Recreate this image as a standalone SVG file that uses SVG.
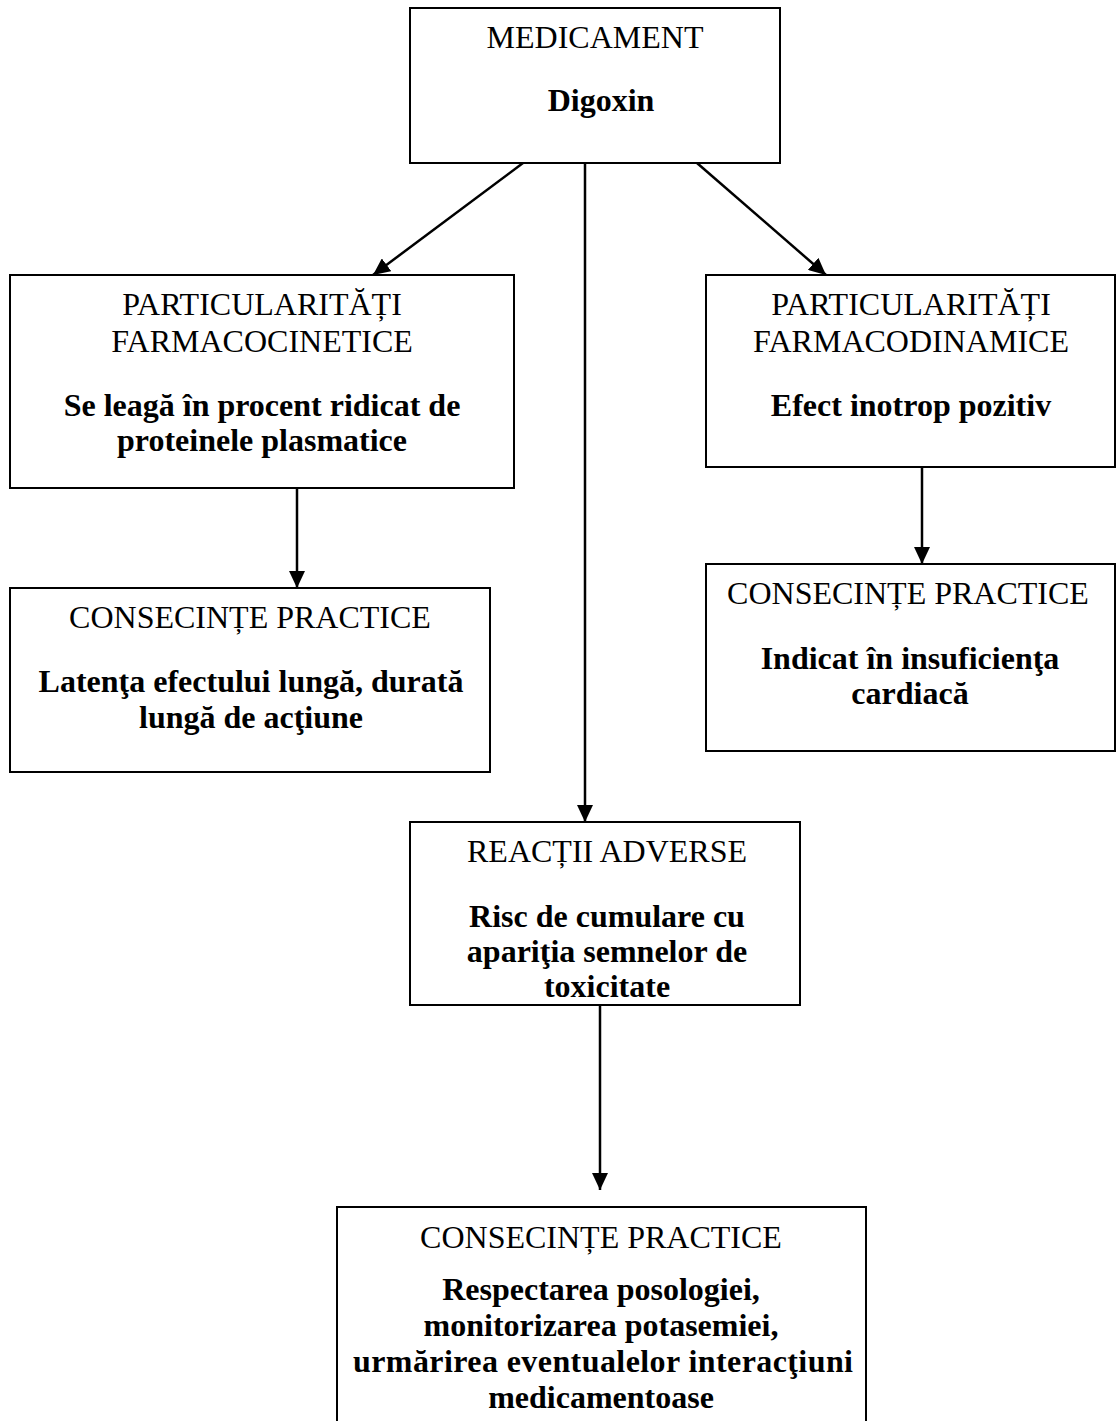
<svg xmlns="http://www.w3.org/2000/svg" width="1117" height="1421" viewBox="0 0 1117 1421">
<defs>
<style>
.box{fill:#fff;stroke:#000;stroke-width:2}
.t{font-family:"Liberation Serif","Times New Roman",serif;font-size:32px;fill:#000;text-anchor:middle}
.b{font-weight:bold}
.c{stroke:#000;stroke-width:2.5;fill:none}
</style>
<marker id="ah" markerUnits="userSpaceOnUse" markerWidth="18" markerHeight="16" refX="17" refY="8" orient="auto">
<path d="M0,0 L17,8 L0,16 Z" fill="#000"/>
</marker>
</defs>
<rect width="1117" height="1421" fill="#fff"/>
<g id="connectors">
<line class="c" x1="523" y1="163" x2="373" y2="275" marker-end="url(#ah)"/>
<line class="c" x1="697" y1="163" x2="826" y2="275" marker-end="url(#ah)"/>
<line class="c" x1="585" y1="163" x2="585" y2="822" marker-end="url(#ah)"/>
<line class="c" x1="297" y1="488" x2="297" y2="588" marker-end="url(#ah)"/>
<line class="c" x1="922" y1="467" x2="922" y2="564" marker-end="url(#ah)"/>
<line class="c" x1="600" y1="1005" x2="600" y2="1190" marker-end="url(#ah)"/>
</g>
<g id="medicament">
<rect class="box" x="410" y="8" width="370" height="155"/>
<text class="t" x="595" y="48">MEDICAMENT</text>
<text class="t b" x="601" y="111">Digoxin</text>
</g>
<g id="farmacocinetice">
<rect class="box" x="10" y="275" width="504" height="213"/>
<text class="t" x="262" y="315">PARTICULARITĂȚI</text>
<text class="t" x="262" y="352">FARMACOCINETICE</text>
<text class="t b" x="262" y="416">Se leagă în procent ridicat de</text>
<text class="t b" x="262" y="451">proteinele plasmatice</text>
</g>
<g id="farmacodinamice">
<rect class="box" x="706" y="275" width="409" height="192"/>
<text class="t" x="911" y="315">PARTICULARITĂȚI</text>
<text class="t" x="911" y="352">FARMACODINAMICE</text>
<text class="t b" x="911" y="416">Efect inotrop pozitiv</text>
</g>
<g id="consecinte-stanga">
<rect class="box" x="10" y="588" width="480" height="184"/>
<text class="t" x="250" y="628">CONSECINȚE PRACTICE</text>
<text class="t b" x="251" y="692">Latenţa efectului lungă, durată</text>
<text class="t b" x="251" y="728">lungă de acţiune</text>
</g>
<g id="consecinte-dreapta">
<rect class="box" x="706" y="564" width="409" height="187"/>
<text class="t" x="908" y="604">CONSECINȚE PRACTICE</text>
<text class="t b" x="910" y="669">Indicat în insuficienţa</text>
<text class="t b" x="910" y="704">cardiacă</text>
</g>
<g id="reactii-adverse">
<rect class="box" x="410" y="822" width="390" height="183"/>
<text class="t" x="607" y="862">REACȚII ADVERSE</text>
<text class="t b" x="607" y="927">Risc de cumulare cu</text>
<text class="t b" x="607" y="962">apariţia semnelor de</text>
<text class="t b" x="607" y="997">toxicitate</text>
</g>
<g id="consecinte-final">
<rect class="box" x="337" y="1207" width="529" height="260"/>
<text class="t" x="601" y="1248">CONSECINȚE PRACTICE</text>
<text class="t b" x="601" y="1300">Respectarea posologiei,</text>
<text class="t b" x="601" y="1336">monitorizarea potasemiei,</text>
<text class="t b" x="603" y="1372" textLength="500" lengthAdjust="spacing">urmărirea eventualelor interacţiuni</text>
<text class="t b" x="601" y="1408">medicamentoase</text>
</g>
</svg>
